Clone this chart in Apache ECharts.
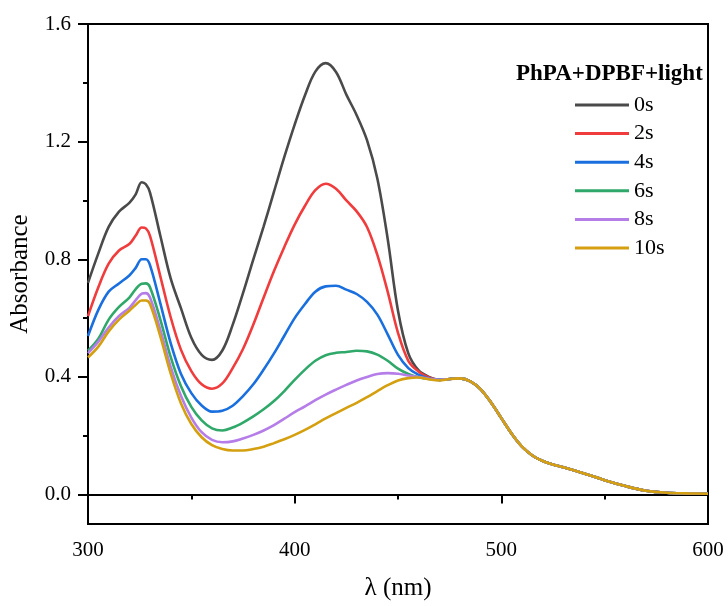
<!DOCTYPE html>
<html>
<head>
<meta charset="utf-8">
<script src="https://cdn.jsdelivr.net/npm/echarts@6/dist/echarts.min.js"></script>
<style>html,body{margin:0;padding:0;background:#fff;}#c{width:728px;height:606px;}</style>
</head>
<body>
<div id="c"></div>
<script>
// wavelengths (nm) for the individual part of each spectrum
const wavelengths = [300,305,310,315,320,323,326,328,330,335,340,345,350,355,360,365,370,375,380,385,390,395,400,405,410,415,420,425,430,435,440,445,450,455,460,465,470];
const s0s  = [0.720,0.820,0.910,0.962,0.992,1.020,1.062,1.055,1.027,0.880,0.735,0.633,0.533,0.475,0.458,0.490,0.577,0.685,0.800,0.912,1.030,1.148,1.258,1.358,1.438,1.467,1.437,1.360,1.290,1.205,1.075,0.870,0.625,0.480,0.422,0.400,0.390];
const s2s  = [0.607,0.705,0.785,0.830,0.852,0.880,0.908,0.905,0.880,0.742,0.603,0.492,0.420,0.375,0.360,0.378,0.430,0.495,0.578,0.670,0.760,0.842,0.918,0.982,1.035,1.057,1.040,1.000,0.963,0.910,0.815,0.690,0.550,0.455,0.418,0.398,0.390];
const s4s  = [0.539,0.628,0.690,0.718,0.745,0.770,0.800,0.800,0.780,0.650,0.515,0.410,0.345,0.303,0.282,0.285,0.302,0.335,0.375,0.425,0.480,0.540,0.600,0.648,0.690,0.708,0.710,0.697,0.682,0.655,0.612,0.545,0.475,0.430,0.407,0.395,0.390];
const s6s  = [0.489,0.530,0.595,0.638,0.670,0.698,0.717,0.718,0.705,0.595,0.468,0.368,0.298,0.252,0.225,0.218,0.228,0.245,0.266,0.290,0.318,0.352,0.390,0.425,0.455,0.474,0.482,0.485,0.489,0.487,0.476,0.455,0.428,0.410,0.399,0.393,0.390];
const s8s  = [0.481,0.520,0.568,0.607,0.635,0.660,0.683,0.685,0.670,0.560,0.434,0.335,0.262,0.212,0.186,0.178,0.181,0.191,0.203,0.218,0.236,0.258,0.280,0.300,0.321,0.340,0.357,0.373,0.388,0.400,0.410,0.413,0.411,0.405,0.400,0.394,0.390];
const s10s = [0.466,0.503,0.555,0.595,0.625,0.645,0.660,0.660,0.648,0.538,0.412,0.310,0.240,0.195,0.168,0.155,0.150,0.150,0.155,0.163,0.175,0.188,0.203,0.220,0.239,0.259,0.277,0.295,0.312,0.331,0.352,0.372,0.388,0.396,0.398,0.392,0.388];
// shared long-wavelength tail (all spectra coincide)
const tailWavelengths = [475,480,485,490,495,500,505,510,515,520,525,530,540,550,560,570,580,590,600];
const tailValues = [0.393,0.395,0.385,0.358,0.313,0.260,0.207,0.163,0.133,0.114,0.102,0.093,0.072,0.049,0.029,0.013,0.006,0.004,0.003];
const seriesNames = ['0s','2s','4s','6s','8s','10s'];
const seriesValues = [s0s,s2s,s4s,s6s,s8s,s10s];
const colors = ['#4a4a4a','#f03c3c','#1a6fdf','#2fa86a','#b57de8','#d4a010'];
const yTicks = [0,0.4,0.8,1.2,1.6];
const yMinorTicks = [0.2,0.6,1.0,1.4];
const legendTitle = 'PhPA+DPBF+light';

const FONT = '"Liberation Serif","Times New Roman",serif';
const chart = echarts.init(document.getElementById('c'), null, {renderer:'canvas'});

function build(vals){
  const d = [];
  wavelengths.forEach((w,i)=>d.push([w, vals[i]]));
  tailWavelengths.forEach((w,i)=>d.push([w, tailValues[i]]));
  return d;
}

const series = seriesNames.map((n,i)=>({
  name:n, type:'line', data:build(seriesValues[i]), smooth:0.35,
  showSymbol:false, symbol:'none', xAxisIndex:0, yAxisIndex:0,
  lineStyle:{color:colors[i], width:2.6}, itemStyle:{color:colors[i]},
  z: 2 + i
}));

chart.setOption({
  animation:false,
  backgroundColor:'#fff',
  title:{text:legendTitle, left:511, top:58, textStyle:{fontFamily:FONT, fontSize:23, fontWeight:'bold', color:'#000'}},
  legend:{
    orient:'vertical', left:570, top:89, itemWidth:54, itemHeight:3, itemGap:6.6, icon:'rect',
    textStyle:{fontFamily:FONT, fontSize:22, color:'#000', lineHeight:22},
    data:seriesNames
  },
  grid:{left:88, right:20, top:24, bottom:80, show:true, borderColor:'#000', borderWidth:2, backgroundColor:'transparent'},
  xAxis:[{
    type:'value', min:300, max:600, interval:100,
    name:'λ (nm)', nameLocation:'middle', nameGap:52,
    nameTextStyle:{fontFamily:FONT, fontSize:25, color:'#000'},
    axisLine:{show:true, lineStyle:{color:'#000', width:2}},
    axisTick:{show:true, length:9, lineStyle:{color:'#000', width:2}},
    minorTick:{show:true, splitNumber:2, length:5, lineStyle:{color:'#000', width:2}},
    axisLabel:{fontFamily:FONT, fontSize:21, color:'#000', margin:16},
    splitLine:{show:false}
  }],
  yAxis:[{
    type:'value', min:-0.1, max:1.6,
    name:'Absorbance', nameLocation:'middle', nameGap:55, nameRotate:90,
    nameTextStyle:{fontFamily:FONT, fontSize:25, color:'#000'},
    axisLine:{show:true, lineStyle:{color:'#000', width:2}},
    axisTick:{show:true, length:10, customValues:yTicks, lineStyle:{color:'#000', width:2}},
    axisLabel:{fontFamily:FONT, fontSize:21, color:'#000', margin:17, customValues:yTicks, formatter:v=>v.toFixed(1)},
    splitLine:{show:false}
  },{
    type:'value', min:-0.1, max:1.6, position:'left',
    axisLine:{show:false},
    axisTick:{show:true, length:5, customValues:yMinorTicks, lineStyle:{color:'#000', width:2}},
    axisLabel:{show:false},
    splitLine:{show:false}
  }],
  series:series
});
</script>
</body>
</html>
